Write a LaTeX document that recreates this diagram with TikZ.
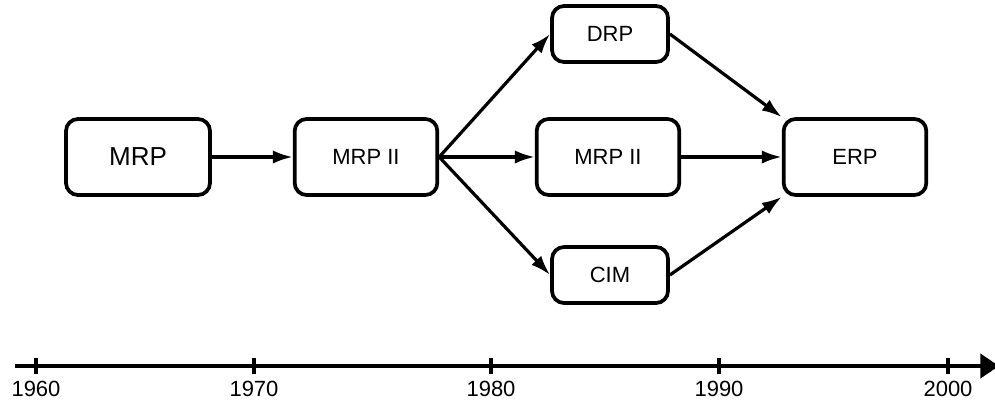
\documentclass[tikz,border=0pt]{standalone}
\usepackage{fontspec}
\setmainfont{Liberation Sans}
\usepackage{tikz}
\usetikzlibrary{arrows.meta}

\tikzset{
  stage/.style={draw, line width=2.8pt, rounded corners=9pt, minimum width=107pt, minimum height=57pt, inner sep=0pt, font=\fontsize{16.5}{18}\selectfont},
  small/.style={minimum width=87pt, minimum height=42pt},
  flow/.style={line width=2.4pt, -{Latex[length=15pt,width=10pt]}},
  axis/.style={line width=3pt, -{Triangle[length=14pt,width=18pt]}},
}

\begin{document}
\begin{tikzpicture}[x=0.75pt, y=-0.75pt]
\useasboundingbox (0,0) rectangle (995,407);
\node[stage, minimum width=108pt, font=\fontsize{19.5}{22}\selectfont] (mrp) at (138,157) {MRP}; \node[stage] (mrpii) at (366,157) {MRP II};
\node[stage, small] (drp) at (610,34) {DRP}; \node[stage] (mrpiib) at (608,157) {MRP II}; \node[stage, small] (cim) at (610,275) {CIM};
\node[stage] (erp) at (855,157) {ERP};
\draw[flow] (mrp) -- (mrpii);
\draw[flow] (mrpii.east) -- (drp.west); \draw[flow] (mrpii.east) -- (mrpiib.west); \draw[flow] (mrpii.east) -- (cim.west);
\draw[flow] (drp.east) -- (erp.north west); \draw[flow] (mrpiib) -- (erp); \draw[flow] (cim.east) -- (erp.south west);
% time line
\coordinate (t0) at (15,366); \coordinate (t1) at (999,366);
\draw[axis] (t0) -- (t1);
\foreach \x/\yr in {36/1960, 254/1970, 491/1980, 719/1990, 948/2000}
  \draw[line width=3pt] (\x,358) -- (\x,374) node[below=4pt, inner sep=0pt, font=\fontsize{16.5}{18}\selectfont] (y\yr) {\yr};
\end{tikzpicture}
\end{document}
